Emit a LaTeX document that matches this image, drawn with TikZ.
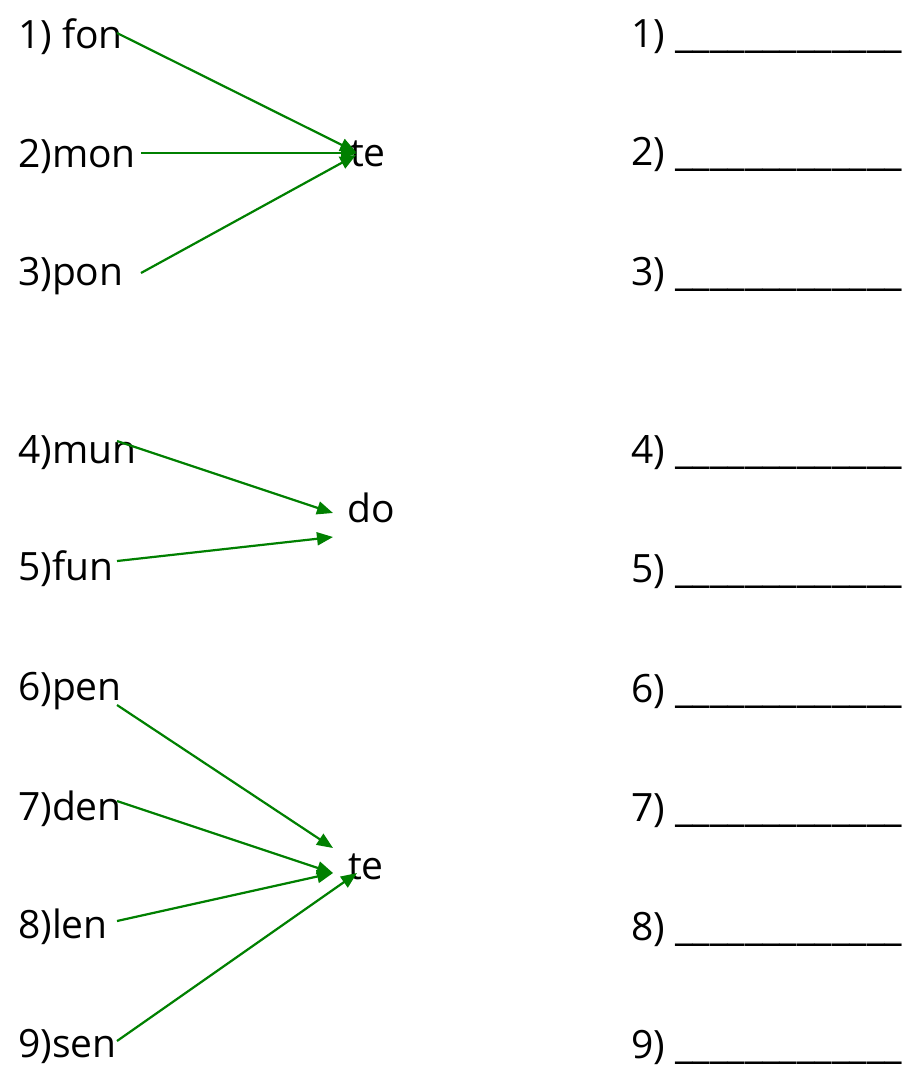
\documentclass[tikz,border=0pt]{standalone}
\usepackage{fontspec}
\setmainfont{Open Sans}
\usetikzlibrary{arrows.meta}
\definecolor{arrowgreen}{RGB}{0,128,0}
\tikzset{
  lbl/.style={anchor=base west, inner sep=0pt, font=\fontsize{39}{41}\selectfont},
  link/.style={draw=arrowgreen, line width=2.2pt, -{Triangle[length=16pt,width=13pt]}, fill=arrowgreen}
}
\begin{document}
\begin{tikzpicture}[x=1pt,y=-1pt]
\useasboundingbox[fill=white] (0,0) rectangle (913,1066);
% left words
\node[lbl] (w1) at (18,48) {1) fon};
\node[lbl] (w2) at (18,167) {2)mon};
\node[lbl] (w3) at (18,285) {3)pon};
\node[lbl] (w4) at (18,463) {4)mun};
\node[lbl] (w5) at (18,580) {5)fun};
\node[lbl] (w6) at (18,700) {6)pen};
\node[lbl] (w7) at (18,820) {7)den};
\node[lbl] (w8) at (18,938) {8)len};
\node[lbl] (w9) at (18,1057) {9)sen};
% endings
\node[lbl] (te1) at (350,166) {te};
\node[lbl] (do) at (347,522) {do};
\node[lbl] (te2) at (348,879) {te};
% answer lines
\node[lbl] (a1) at (631,47) {1) \_\_\_\_\_\_\_\_\_\_\_\_\_};
\node[lbl] (a2) at (631,165) {2) \_\_\_\_\_\_\_\_\_\_\_\_\_};
\node[lbl] (a3) at (631,285) {3) \_\_\_\_\_\_\_\_\_\_\_\_\_};
\node[lbl] (a4) at (631,463) {4) \_\_\_\_\_\_\_\_\_\_\_\_\_};
\node[lbl] (a5) at (631,582) {5) \_\_\_\_\_\_\_\_\_\_\_\_\_};
\node[lbl] (a6) at (631,702) {6) \_\_\_\_\_\_\_\_\_\_\_\_\_};
\node[lbl] (a7) at (631,821) {7) \_\_\_\_\_\_\_\_\_\_\_\_\_};
\node[lbl] (a8) at (631,940) {8) \_\_\_\_\_\_\_\_\_\_\_\_\_};
\node[lbl] (a9) at (631,1058) {9) \_\_\_\_\_\_\_\_\_\_\_\_\_};
% connector ends
\coordinate (s1) at (117,33);
\coordinate (s2) at (141,153);
\coordinate (s3) at (141,273);
\coordinate (s4) at (117,441);
\coordinate (s5) at (117,561);
\coordinate (s6) at (117,705);
\coordinate (s7) at (117,801);
\coordinate (s8) at (117,921);
\coordinate (s9) at (117,1041);
\coordinate (t1) at (356,152);
\coordinate (t2) at (357,153);
\coordinate (t3) at (356,155);
\coordinate (d1) at (333,513);
\coordinate (d2) at (333,537);
\coordinate (u1) at (333,848);
\coordinate (u2) at (333,873);
\coordinate (u3) at (357,873);
% connectors
\draw[link] (s1) -- (t1);
\draw[link] (s2) -- (t2);
\draw[link] (s3) -- (t3);
\draw[link] (s4) -- (d1);
\draw[link] (s5) -- (d2);
\draw[link] (s6) -- (u1);
\draw[link] (s7) -- (u2);
\draw[link] (s8) -- (u2);
\draw[link] (s9) -- (u3);
\end{tikzpicture}
\end{document}
